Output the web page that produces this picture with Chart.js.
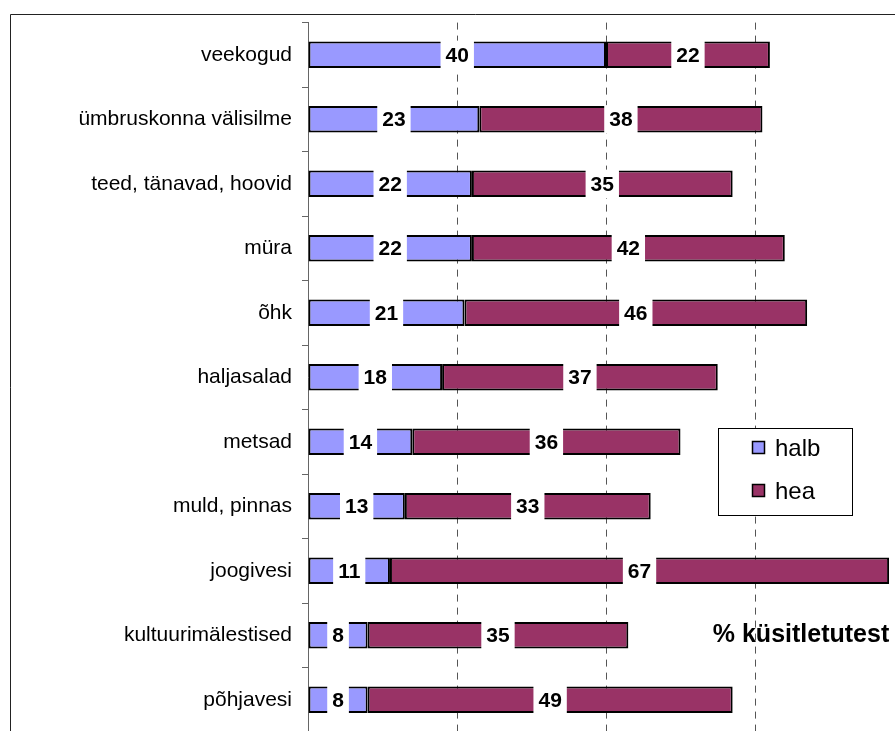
<!DOCTYPE html>
<html>
<head>
<meta charset="utf-8">
<script src="https://cdn.jsdelivr.net/npm/chart.js@4.4.1/dist/chart.umd.min.js"></script>
<style>
  html, body { margin: 0; padding: 0; background: #fff; overflow: hidden; }
  #wrap { position: absolute; left: 0; top: 0; width: 940px; height: 760px; }
</style>
</head>
<body>
<div id="wrap"><canvas id="chart" width="940" height="760"></canvas></div>
<script>
const categories = ["veekogud", "ümbruskonna välisilme", "teed, tänavad, hoovid", "müra", "õhk",
    "haljasalad", "metsad", "muld, pinnas", "joogivesi", "kultuurimälestised", "põhjavesi"];
const halb = [40, 23, 22, 22, 21, 18, 14, 13, 11, 8, 8];
const hea = [22, 38, 35, 42, 46, 37, 36, 33, 67, 35, 49];
const xTicks = [0, 20, 40, 60, 80];
const axisTitle = "% küsitletutest";

const FONT = "Arial, 'Liberation Sans', sans-serif";

// frame round the whole chart (only top/left are visible in the crop)
const framePlugin = {
    id: "frame",
    beforeDraw(chart) {
        const c = chart.ctx;
        c.save();
        c.strokeStyle = "#222";
        c.lineWidth = 1;
        c.beginPath();
        c.moveTo(10.5, 760);
        c.lineTo(10.5, 14.5);
        c.lineTo(940, 14.5);
        c.stroke();
        c.restore();
    }
};

// value labels in white boxes in the middle of each segment
const labelPlugin = {
    id: "valueLabels",
    afterDatasetsDraw(chart) {
        const c = chart.ctx;
        c.save();
        c.font = "bold 21px " + FONT;
        c.textAlign = "center";
        c.textBaseline = "middle";
        chart.data.datasets.forEach((ds, di) => {
            const meta = chart.getDatasetMeta(di);
            meta.data.forEach((bar, i) => {
                const txt = String(ds.data[i]);
                const cx = (bar.x + bar.base) / 2;
                const w = c.measureText(txt).width + 10;
                const h = bar.height + 2;
                c.fillStyle = "#fff";
                c.fillRect(cx - w / 2, bar.y - h / 2, w, h);
                c.fillStyle = "#000";
                c.fillText(txt, cx, bar.y + 1);
            });
        });
        c.restore();
    }
};

// legend box and axis title placed inside the plot like the original
const legendPlugin = {
    id: "boxLegend",
    afterDraw(chart) {
        const c = chart.ctx;
        c.save();
        c.fillStyle = "#fff";
        c.fillRect(718.5, 428.5, 134, 87);
        c.strokeStyle = "#000";
        c.lineWidth = 1;
        c.strokeRect(718.5, 428.5, 134, 87);
        c.font = "24px " + FONT;
        c.textBaseline = "middle";
        chart.data.datasets.forEach((ds, i) => {
            const y = 448 + i * 43;
            c.fillStyle = ds.backgroundColor;
            c.fillRect(752.5, y - 6.5, 12, 12);
            c.strokeStyle = "#000";
            c.lineWidth = 1.5;
            c.strokeRect(752.5, y - 6.5, 12, 12);
            c.fillStyle = "#000";
            c.fillText(ds.label, 775, y + 1);
        });
        c.font = "bold 25px " + FONT;
        c.textAlign = "center";
        c.fillText(axisTitle, 801, 635);
        c.restore();
    }
};

new Chart(document.getElementById("chart"), {
    type: "bar",
    data: {
        labels: categories,
        datasets: [
            { label: "halb", data: halb, backgroundColor: "#9999FF", borderColor: "#000",
              borderWidth: 2, borderSkipped: false, barPercentage: 0.82, categoryPercentage: 0.5 },
            { label: "hea", data: hea, backgroundColor: "#993366", borderColor: "#000",
              borderWidth: 2, borderSkipped: false, barPercentage: 0.82, categoryPercentage: 0.5 }
        ]
    },
    options: {
        indexAxis: "y",
        responsive: false,
        animation: false,
        layout: { padding: { top: 22, right: 36, bottom: 28, left: 0 } },
        plugins: { legend: { display: false }, tooltip: { enabled: false } },
        scales: {
            x: {
                stacked: true,
                min: 0, max: 80,
                afterBuildTicks: s => { s.ticks = xTicks.map(v => ({ value: v })); },
                ticks: { display: false },
                border: { display: false, dash: [7, 6] },
                grid: {
                    drawTicks: false,
                    color: ctx => (ctx.tick && ctx.tick.value === 0) ? "rgba(0,0,0,0)" : "#555",
                    lineWidth: 1
                },
                afterFit: s => { s.height = 0; }
            },
            y: {
                stacked: true,
                afterFit: s => { s.width = 308; },
                border: { display: true, color: "#666", width: 1 },
                grid: { drawOnChartArea: false, tickLength: 6, color: "#666", offset: true },
                ticks: { color: "#000", font: { family: FONT, size: 21 }, padding: 10 }
            }
        }
    },
    plugins: [framePlugin, labelPlugin, legendPlugin]
});
</script>
</body>
</html>
